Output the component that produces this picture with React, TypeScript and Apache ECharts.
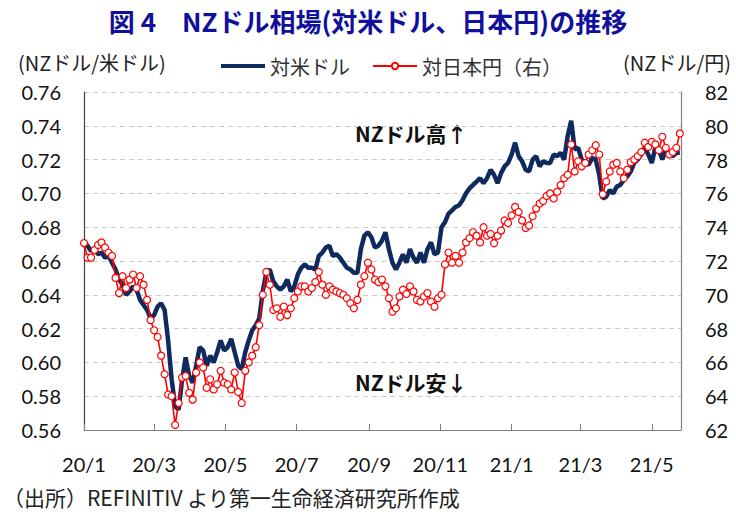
import React, { useEffect, useRef } from "react";
import * as echarts from "echarts";

const TITLE = "図 4　NZドル相場(対米ドル、日本円)の推移";
const LEFT_AXIS_TITLE = "(NZドル/米ドル)";
const RIGHT_AXIS_TITLE = "(NZドル/円)";
const SERIES_NAMES = ["対米ドル", "対日本円（右）"];
const NOTE_UP = "NZドル高↑";
const NOTE_DOWN = "NZドル安↓";
const SOURCE = "（出所）REFINITIV より第一生命経済研究所作成";

// axis spans 2020-01-01 .. 2021-05-26 (daily categories)
const START_DATE = [2020, 0, 1];
const AXIS_DAYS = 512;
const SAMPLE_STEP_DAYS = 3;

// NZD/USD (left axis), one reading every 3 days from 2020-01-01
const usdValues = [
  0.672, 0.669, 0.666, 0.667, 0.664, 0.665, 0.662, 0.663, 0.659, 0.655,
  0.649, 0.646, 0.640, 0.642, 0.645, 0.643, 0.637, 0.634, 0.631, 0.626,
  0.628, 0.633, 0.635, 0.631, 0.613, 0.590, 0.574, 0.572, 0.590, 0.603,
  0.592, 0.588, 0.598, 0.609, 0.607, 0.598, 0.604, 0.600, 0.606, 0.613,
  0.607, 0.609, 0.614, 0.606, 0.598, 0.596, 0.606, 0.613, 0.619, 0.622,
  0.626, 0.642, 0.653, 0.655, 0.648, 0.645, 0.643, 0.645, 0.649, 0.642,
  0.645, 0.652, 0.656, 0.658, 0.656, 0.656, 0.655, 0.663, 0.665, 0.668,
  0.669, 0.663, 0.664, 0.662, 0.659, 0.656, 0.655, 0.653, 0.653, 0.667,
  0.675, 0.677, 0.674, 0.668, 0.669, 0.672, 0.677, 0.667, 0.659, 0.655,
  0.659, 0.664, 0.659, 0.667, 0.662, 0.659, 0.665, 0.659, 0.667, 0.671,
  0.664, 0.665, 0.680, 0.683, 0.688, 0.690, 0.692, 0.693, 0.696, 0.700,
  0.703, 0.705, 0.707, 0.709, 0.706, 0.709, 0.714, 0.711, 0.706, 0.712,
  0.716, 0.718, 0.723, 0.730, 0.722, 0.719, 0.714, 0.713, 0.720, 0.722,
  0.716, 0.719, 0.718, 0.718, 0.723, 0.722, 0.724, 0.720, 0.734, 0.743,
  0.726, 0.727, 0.720, 0.718, 0.717, 0.721, 0.720, 0.711, 0.697, 0.698,
  0.702, 0.700, 0.704, 0.705, 0.708, 0.710, 0.713, 0.718, 0.720, 0.723,
  0.727, 0.723, 0.718, 0.727, 0.726, 0.720, 0.726, 0.723, 0.722, 0.724,
  0.724,
];

// NZD/JPY (right axis), same dates
const jpyValues = [
  73.06, 72.2, 72.2, 72.65, 72.95, 73.1, 72.8, 72.5, 72.3, 71.0,
  70.1, 71.1, 70.4, 70.9, 71.2, 70.4, 71.1, 70.6, 69.7, 68.5,
  67.9, 67.5, 66.4, 65.3, 64.1, 64.0, 62.3, 63.6, 65.1, 65.2,
  64.2, 63.8, 65.4, 66.0, 65.7, 64.5, 65.0, 64.4, 64.7, 65.5,
  64.8, 64.7, 64.4, 65.4, 64.25, 63.6, 65.5, 66.0, 66.4, 66.9,
  68.2, 70.0, 71.35, 70.6, 69.1, 69.2, 68.7, 69.3, 68.8, 69.2,
  69.8, 70.2, 70.5, 70.5, 70.2, 70.4, 70.75, 71.35, 70.6, 70.0,
  70.5, 70.3, 70.2, 70.1, 70.0, 69.8, 69.5, 69.2, 69.7, 70.6,
  71.1, 71.9, 71.5, 70.9, 70.75, 70.9, 70.5, 69.8, 69.0, 69.2,
  69.9, 70.3, 70.05, 70.5, 70.2, 69.7, 69.6, 69.9, 70.1, 69.6,
  69.3, 69.8, 70.0, 71.8, 72.5, 71.9, 72.3, 71.9, 72.5, 73.1,
  73.35, 73.7, 73.5, 73.1, 74.0, 73.5, 73.6, 73.05, 73.5, 73.8,
  74.4, 74.25, 74.7, 75.2, 74.9, 74.4, 73.95, 74.1, 74.65, 75.1,
  75.4, 75.55, 75.85, 76.0, 75.7, 76.1, 76.5, 76.9, 77.1, 78.9,
  77.3, 77.9, 77.6, 77.8, 78.3, 78.55, 78.85, 78.3, 75.95, 76.7,
  77.3, 77.7, 77.8, 77.3, 76.9, 77.4, 77.85, 78.0, 78.2, 78.45,
  79.0, 78.75, 79.05, 78.9, 78.55, 79.35, 78.7, 78.3, 78.45, 78.7,
  79.55,
];

const LEFT_MIN = 0.56, LEFT_MAX = 0.76, LEFT_STEP = 0.02;
const RIGHT_MIN = 62, RIGHT_MAX = 82, RIGHT_STEP = 2;

const JP = "'Noto Sans CJK JP', 'Noto Sans', sans-serif";
const NUM = "Lato, 'Noto Sans CJK JP', sans-serif";

function buildDays() {
  const days: { key: string; y: number; m: number; d: number }[] = [];
  for (let i = 0; i < AXIS_DAYS; i++) {
    const dt = new Date(Date.UTC(START_DATE[0], START_DATE[1], START_DATE[2] + i));
    const y = dt.getUTCFullYear();
    const m = dt.getUTCMonth() + 1;
    const d = dt.getUTCDate();
    days.push({ key: `${y}-${m}-${d}`, y, m, d });
  }
  return days;
}

export default function App() {
  const ref = useRef<HTMLDivElement>(null);

  useEffect(() => {
    document.body.style.margin = "0";
    if (!ref.current) return;
    const chart = echarts.init(ref.current, undefined, { renderer: "svg" });
    const days = buildDays();
    const categories = days.map((d) => d.key);
    const isTick = (idx: number) => days[idx] && days[idx].d === 1 && days[idx].m % 2 === 1;
    const labelOf = (idx: number) => `${String(days[idx].y).slice(2)}/${days[idx].m}`;

    const usdData = usdValues.map((v, i) => [i * SAMPLE_STEP_DAYS, v]);
    const jpyData = jpyValues.map((v, i) => [i * SAMPLE_STEP_DAYS, v]);

    chart.setOption({
      animation: false,
      backgroundColor: "#ffffff",
      title: {
        text: TITLE,
        left: "center",
        top: 2,
        textStyle: { fontFamily: JP, fontSize: 26, fontWeight: "bold", color: "#10109c" },
      },
      legend: {
        data: [
          { name: SERIES_NAMES[0], icon: "path://M0 0 H44 V4 H0 Z" },
          { name: SERIES_NAMES[1] },
        ],
        left: 216,
        top: 51,
        itemWidth: 44,
        itemHeight: 8,
        itemGap: 22,
        textStyle: { fontFamily: JP, fontSize: 20, color: "#333333" },
      },
      grid: { left: 84, right: 55, top: 92, bottom: 86, containLabel: false },
      xAxis: {
        type: "category",
        data: categories,
        boundaryGap: false,
        axisLine: { show: true, lineStyle: { color: "#808080", width: 1.2 } },
        axisTick: {
          show: true,
          inside: true,
          length: 6,
          interval: (idx: number) => isTick(idx),
          lineStyle: { color: "#808080" },
        },
        axisLabel: {
          interval: (idx: number) => isTick(idx),
          formatter: (_v: string, idx: number) => labelOf(idx),
          fontFamily: NUM,
          fontSize: 20,
          color: "#111111",
          margin: 24,
        },
        splitLine: { show: false },
      },
      yAxis: [
        {
          type: "value",
          min: LEFT_MIN,
          max: LEFT_MAX,
          interval: LEFT_STEP,
          position: "left",
          axisLine: { show: true, lineStyle: { color: "#404040", width: 1.2 } },
          axisTick: { show: false },
          axisLabel: {
            formatter: (v: number) => v.toFixed(2),
            fontFamily: NUM,
            fontSize: 20,
            color: "#111111",
            margin: 23,
          },
          splitLine: { show: true, lineStyle: { color: "#cccccc", type: [5, 4], width: 1 } },
        },
        {
          type: "value",
          min: RIGHT_MIN,
          max: RIGHT_MAX,
          interval: RIGHT_STEP,
          position: "right",
          axisLine: { show: true, lineStyle: { color: "#808080", width: 1.2 } },
          axisTick: { show: false },
          axisLabel: {
            fontFamily: NUM,
            fontSize: 20,
            color: "#111111",
            margin: 24,
          },
          splitLine: { show: false },
        },
      ],
      series: [
        {
          name: SERIES_NAMES[0],
          type: "line",
          yAxisIndex: 0,
          data: usdData,
          symbol: "none",
          showSymbol: false,
          lineStyle: { color: "#0f2a5e", width: 4.5 },
          itemStyle: { color: "#0f2a5e" },
          z: 2,
        },
        {
          name: SERIES_NAMES[1],
          type: "line",
          yAxisIndex: 1,
          data: jpyData,
          symbol: "circle",
          symbolSize: 7,
          showSymbol: true,
          showAllSymbol: true,
          lineStyle: { color: "#ff0000", width: 1.6 },
          itemStyle: { color: "#ffffff", borderColor: "#ff0000", borderWidth: 1.2 },
          z: 3,
        },
      ],
      graphic: [
        {
          type: "text",
          x: 18,
          y: 62,
          style: { text: LEFT_AXIS_TITLE, font: `20px ${JP}`, fill: "#222222", textVerticalAlign: "middle" },
        },
        {
          type: "text",
          x: 731,
          y: 62,
          style: {
            text: RIGHT_AXIS_TITLE,
            font: `20px ${JP}`,
            fill: "#222222",
            textAlign: "right",
            textVerticalAlign: "middle",
          },
        },
        {
          type: "text",
          x: 355,
          y: 133,
          style: { text: NOTE_UP, font: `bold 21px ${JP}`, fill: "#111111", textVerticalAlign: "middle" },
        },
        {
          type: "text",
          x: 355,
          y: 382,
          style: { text: NOTE_DOWN, font: `bold 21px ${JP}`, fill: "#111111", textVerticalAlign: "middle" },
        },
        {
          type: "text",
          x: 3,
          y: 497,
          style: { text: SOURCE, font: `21px ${JP}`, fill: "#222222", textVerticalAlign: "middle" },
        },
      ],
    });

    return () => chart.dispose();
  }, []);

  return <div ref={ref} style={{ width: 736, height: 516 }} />;
}
